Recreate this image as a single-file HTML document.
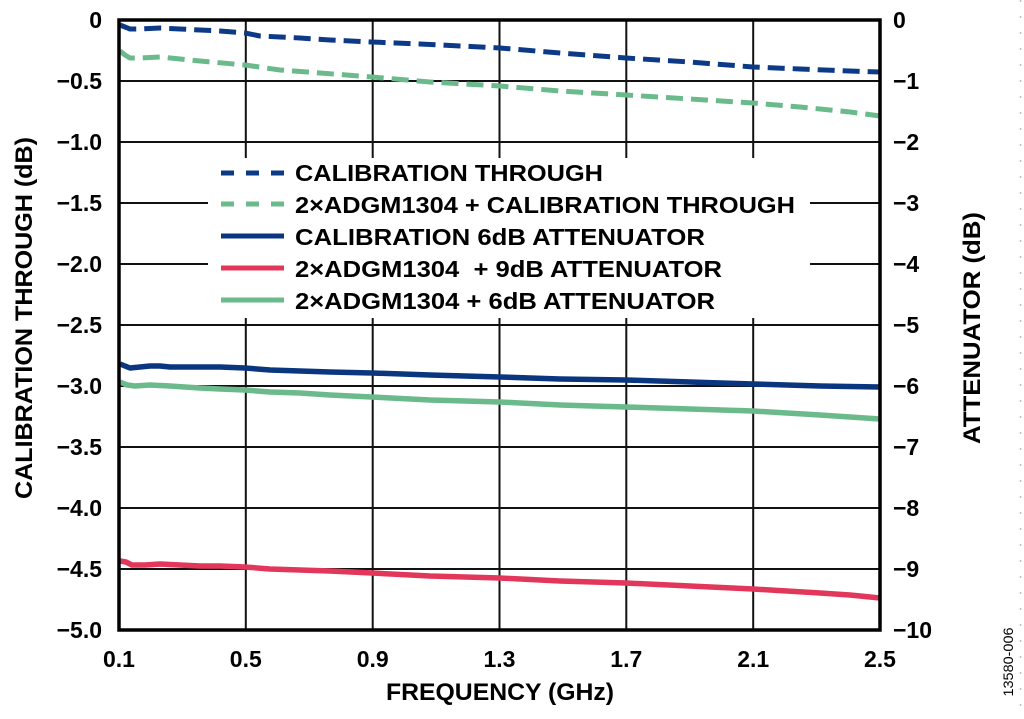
<!DOCTYPE html>
<html>
<head>
<meta charset="utf-8">
<style>
  html,body{margin:0;padding:0;background:#fff;}
  svg{display:block;}
  text{font-family:"Liberation Sans",Arial,sans-serif;font-weight:bold;fill:#000;}
</style>
</head>
<body>
<svg width="1024" height="719" viewBox="0 0 1024 719" xmlns="http://www.w3.org/2000/svg">
  <rect width="1024" height="719" fill="#fff"/>

  <!-- gridlines -->
  <g stroke="#111" stroke-width="2">
    <line x1="245.8" y1="20" x2="245.8" y2="630"/>
    <line x1="372.7" y1="20" x2="372.7" y2="630"/>
    <line x1="499.5" y1="20" x2="499.5" y2="630"/>
    <line x1="626.3" y1="20" x2="626.3" y2="630"/>
    <line x1="753.2" y1="20" x2="753.2" y2="630"/>
    <line x1="119" y1="81" x2="880" y2="81"/>
    <line x1="119" y1="142" x2="880" y2="142"/>
    <line x1="119" y1="203" x2="880" y2="203"/>
    <line x1="119" y1="264" x2="880" y2="264"/>
    <line x1="119" y1="325" x2="880" y2="325"/>
    <line x1="119" y1="386" x2="880" y2="386"/>
    <line x1="119" y1="447" x2="880" y2="447"/>
    <line x1="119" y1="508" x2="880" y2="508"/>
    <line x1="119" y1="569" x2="880" y2="569"/>
  </g>

  <!-- legend background -->
  <rect x="208" y="158" width="602" height="160" fill="#fff"/>

  <!-- series -->
  <g fill="none" stroke-linejoin="round" stroke-width="5">
    <polyline stroke="#0d3a86" stroke-dasharray="17 8"
      points="120,25 125,27 130,29 140,29 160,28 180,29 200,30 220,31 245,33 260,36 280,37 300,38 330,40 372,42 420,44 460,46 500,48 560,53 626,58 690,62 753,67 800,69 850,71 880,72"/>
    <polyline stroke="#6aba8c" stroke-dasharray="17 8"
      points="120,51 125,55 130,58 140,58 160,57 180,59 200,61 245,65 280,70 320,73 372,77 430,82 500,86 560,91 626,95 690,99 753,103 800,107 850,112 880,116"/>
    <polyline stroke="#0a3680" stroke-width="5.5"
      points="120,364 125,366 130,368 140,367 150,366 160,366 170,367 180,367 200,367 220,367 245,368 270,370 300,371 330,372 372,373 430,375 500,377 560,379 626,380 690,382 753,384 820,386 880,387"/>
    <polyline stroke="#6aba8c" stroke-width="5.5"
      points="120,382 127,385 135,386 150,385 170,386 200,388 220,389 245,390 270,392 300,393 330,395 372,397 430,400 500,402 560,405 626,407 690,409 753,411 820,415 880,419"/>
    <polyline stroke="#e2375b" stroke-width="5.5"
      points="120,561 126,562 132,565 145,565 160,564 180,565 200,566 220,566 245,567 270,569 300,570 330,571 372,573 430,576 500,578 560,581 626,583 690,586 753,589 820,593 850,595 880,598"/>
  </g>

  <!-- plot border -->
  <rect x="119" y="20" width="761" height="610" fill="none" stroke="#000" stroke-width="3.5"/>

  <!-- legend -->
  <g stroke-width="5" fill="none">
    <line x1="221" y1="173" x2="284" y2="173" stroke="#0d3a86" stroke-dasharray="13 12"/>
    <line x1="221" y1="204" x2="284" y2="204" stroke="#6aba8c" stroke-dasharray="13 12"/>
    <line x1="221" y1="236" x2="284" y2="236" stroke="#0a3680"/>
    <line x1="221" y1="268" x2="284" y2="268" stroke="#e2375b"/>
    <line x1="221" y1="300" x2="284" y2="300" stroke="#6aba8c"/>
  </g>
  <g font-size="23">
    <text x="295" y="181" textLength="308" lengthAdjust="spacingAndGlyphs">CALIBRATION THROUGH</text>
    <text x="295" y="213" textLength="500" lengthAdjust="spacingAndGlyphs">2×ADGM1304 + CALIBRATION THROUGH</text>
    <text x="295" y="245" textLength="410" lengthAdjust="spacingAndGlyphs">CALIBRATION 6dB ATTENUATOR</text>
    <text x="295" y="277" textLength="427" lengthAdjust="spacingAndGlyphs" xml:space="preserve">2×ADGM1304  + 9dB ATTENUATOR</text>
    <text x="295" y="309" textLength="420" lengthAdjust="spacingAndGlyphs">2×ADGM1304 + 6dB ATTENUATOR</text>
  </g>

  <!-- left tick labels -->
  <g font-size="23" text-anchor="end">
    <text x="102" y="28">0</text>
    <text x="102" y="89">−0.5</text>
    <text x="102" y="150">−1.0</text>
    <text x="102" y="211">−1.5</text>
    <text x="102" y="272">−2.0</text>
    <text x="102" y="333">−2.5</text>
    <text x="102" y="394">−3.0</text>
    <text x="102" y="455">−3.5</text>
    <text x="102" y="516">−4.0</text>
    <text x="102" y="577">−4.5</text>
    <text x="102" y="638">−5.0</text>
  </g>

  <!-- right tick labels -->
  <g font-size="23" text-anchor="start">
    <text x="893" y="28">0</text>
    <text x="893" y="89">−1</text>
    <text x="893" y="150">−2</text>
    <text x="893" y="211">−3</text>
    <text x="893" y="272">−4</text>
    <text x="893" y="333">−5</text>
    <text x="893" y="394">−6</text>
    <text x="893" y="455">−7</text>
    <text x="893" y="516">−8</text>
    <text x="893" y="577">−9</text>
    <text x="893" y="638">−10</text>
  </g>

  <!-- bottom tick labels -->
  <g font-size="23" text-anchor="middle">
    <text x="119" y="667">0.1</text>
    <text x="245.8" y="667">0.5</text>
    <text x="372.7" y="667">0.9</text>
    <text x="499.5" y="667">1.3</text>
    <text x="626.3" y="667">1.7</text>
    <text x="753.2" y="667">2.1</text>
    <text x="880" y="667">2.5</text>
  </g>

  <!-- axis titles -->
  <text x="386" y="700" font-size="24" textLength="228" lengthAdjust="spacingAndGlyphs">FREQUENCY (GHz)</text>
  <text transform="translate(32,318) rotate(-90)" text-anchor="middle" font-size="24" textLength="362" lengthAdjust="spacingAndGlyphs">CALIBRATION THROUGH (dB)</text>
  <text transform="translate(980,328) rotate(-90)" text-anchor="middle" font-size="24" textLength="232" lengthAdjust="spacingAndGlyphs">ATTENUATOR (dB)</text>

  <!-- figure id -->
  <text transform="translate(1013,662) rotate(-90)" text-anchor="middle" font-size="14" style="font-weight:normal" textLength="69" lengthAdjust="spacingAndGlyphs">13580-006</text>

  <!-- faint dotted edge -->
  <line x1="1020.5" y1="0" x2="1020.5" y2="719" stroke="#c9b3d6" stroke-width="1.5" stroke-dasharray="2 14"/>
</svg>
</body>
</html>
